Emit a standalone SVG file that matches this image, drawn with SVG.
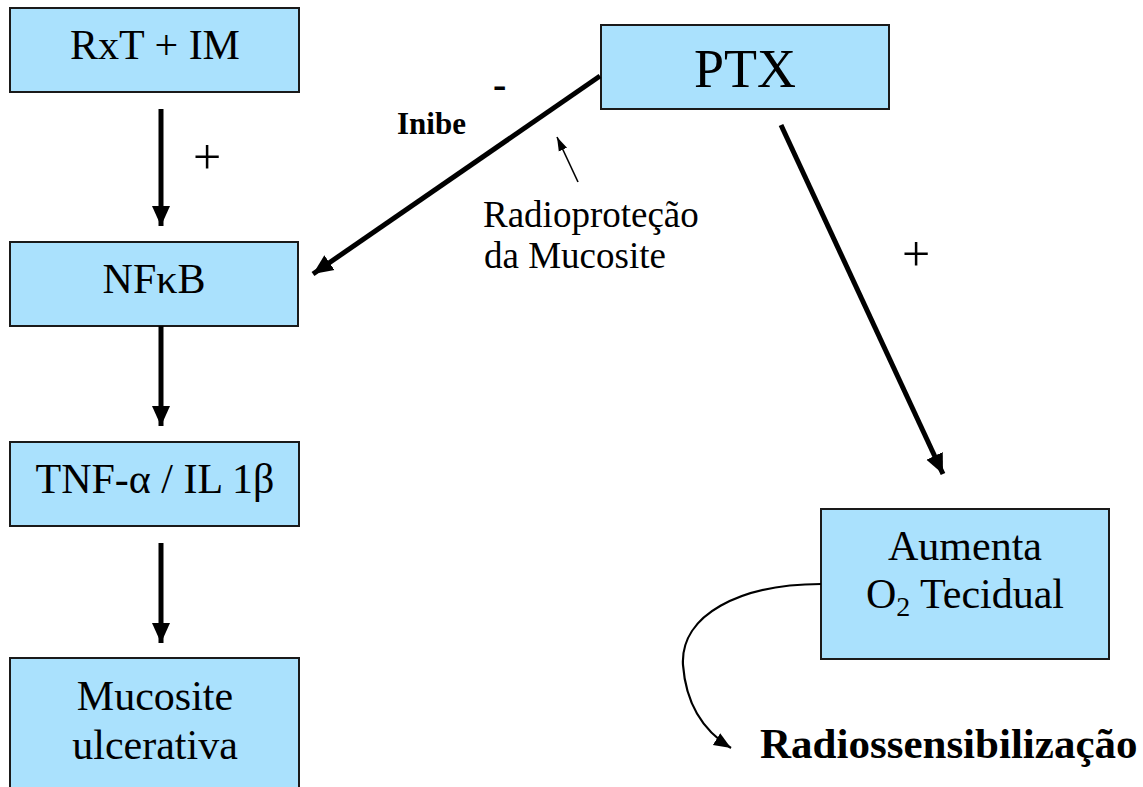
<svg xmlns="http://www.w3.org/2000/svg" width="1143" height="787" viewBox="0 0 1143 787">
<style>
.box{fill:#aae1fd;stroke:#1a1a1a;stroke-width:2}
.t{font-family:"Liberation Serif","Times New Roman",serif;fill:#000}
.c{text-anchor:middle;font-size:42px}
.b{font-weight:bold}
.thick{stroke:#000;stroke-width:5;fill:none}
</style>
<defs>
<marker id="ah" markerUnits="userSpaceOnUse" markerWidth="24" markerHeight="24" viewBox="0 0 24 24" refX="20" refY="12" orient="auto">
<path d="M0,3 L20,12 L0,21 Z" fill="#000"/>
</marker>
<marker id="ahs" markerUnits="userSpaceOnUse" markerWidth="16" markerHeight="12" viewBox="0 0 16 12" refX="14" refY="6" orient="auto">
<path d="M0,1.5 L14,6 L0,10.5 Z" fill="#000"/>
</marker>
<marker id="ahc" markerUnits="userSpaceOnUse" markerWidth="20" markerHeight="20" viewBox="0 0 20 20" refX="17" refY="10" orient="auto">
<path d="M0,3 L17,10 L0,17 Z" fill="#000"/>
</marker>
</defs>

<g id="n-rxt"><rect class="box" x="10" y="8" width="289" height="84"/><text class="t c" x="155" y="59">RxT + IM</text></g>
<g id="n-nfkb"><rect class="box" x="10" y="242" width="288" height="84"/><text class="t c" x="154" y="293">NFκB</text></g>
<g id="n-tnf"><rect class="box" x="10" y="442" width="289" height="84"/><text class="t c" x="155" y="493">TNF-α / IL 1β</text></g>
<g id="n-muco"><rect class="box" x="10" y="658" width="289" height="140"/><text class="t c" x="155" y="710">Mucosite</text><text class="t c" x="155" y="759">ulcerativa</text></g>
<g id="n-ptx"><rect class="box" x="601" y="25" width="288" height="84"/><text class="t" x="745" y="87" text-anchor="middle" font-size="54">PTX</text></g>
<g id="n-o2"><rect class="box" x="821" y="509" width="288" height="150"/><text class="t c" x="965" y="560">Aumenta</text><text class="t c" x="965" y="608">O<tspan font-size="28" dy="8">2</tspan><tspan dy="-8"> Tecidual</tspan></text></g>
<g id="n-radio"><text class="t b" x="760" y="758" font-size="43">Radiossensibilização</text></g>

<g id="connectors">
<line class="thick" x1="161" y1="109" x2="161" y2="226" marker-end="url(#ah)"/>
<line class="thick" x1="161" y1="326" x2="161" y2="426" marker-end="url(#ah)"/>
<line class="thick" x1="161" y1="543" x2="161" y2="643" marker-end="url(#ah)"/>
<line class="thick" x1="600" y1="76" x2="313" y2="274" marker-end="url(#ah)"/>
<line class="thick" x1="781" y1="125" x2="943" y2="474" marker-end="url(#ah)"/>
<line x1="578" y1="182" x2="557" y2="137" stroke="#000" stroke-width="1.6" marker-end="url(#ahs)"/>
<path d="M821,584 C740,584 680,615 683,665 C686,705 705,732 731,748" fill="none" stroke="#000" stroke-width="2.2" marker-end="url(#ahc)"/>
</g>

<g id="labels">
<text class="t" x="193" y="174" font-size="50">+</text>
<text class="t" x="902" y="271" font-size="50">+</text>
<text class="t b" x="493" y="98" font-size="40">-</text>
<text class="t b" x="397" y="134" font-size="31">Inibe</text>
<text class="t" x="483" y="227" font-size="37">Radioproteção</text>
<text class="t" x="484" y="268" font-size="37">da Mucosite</text>
</g>
</svg>
